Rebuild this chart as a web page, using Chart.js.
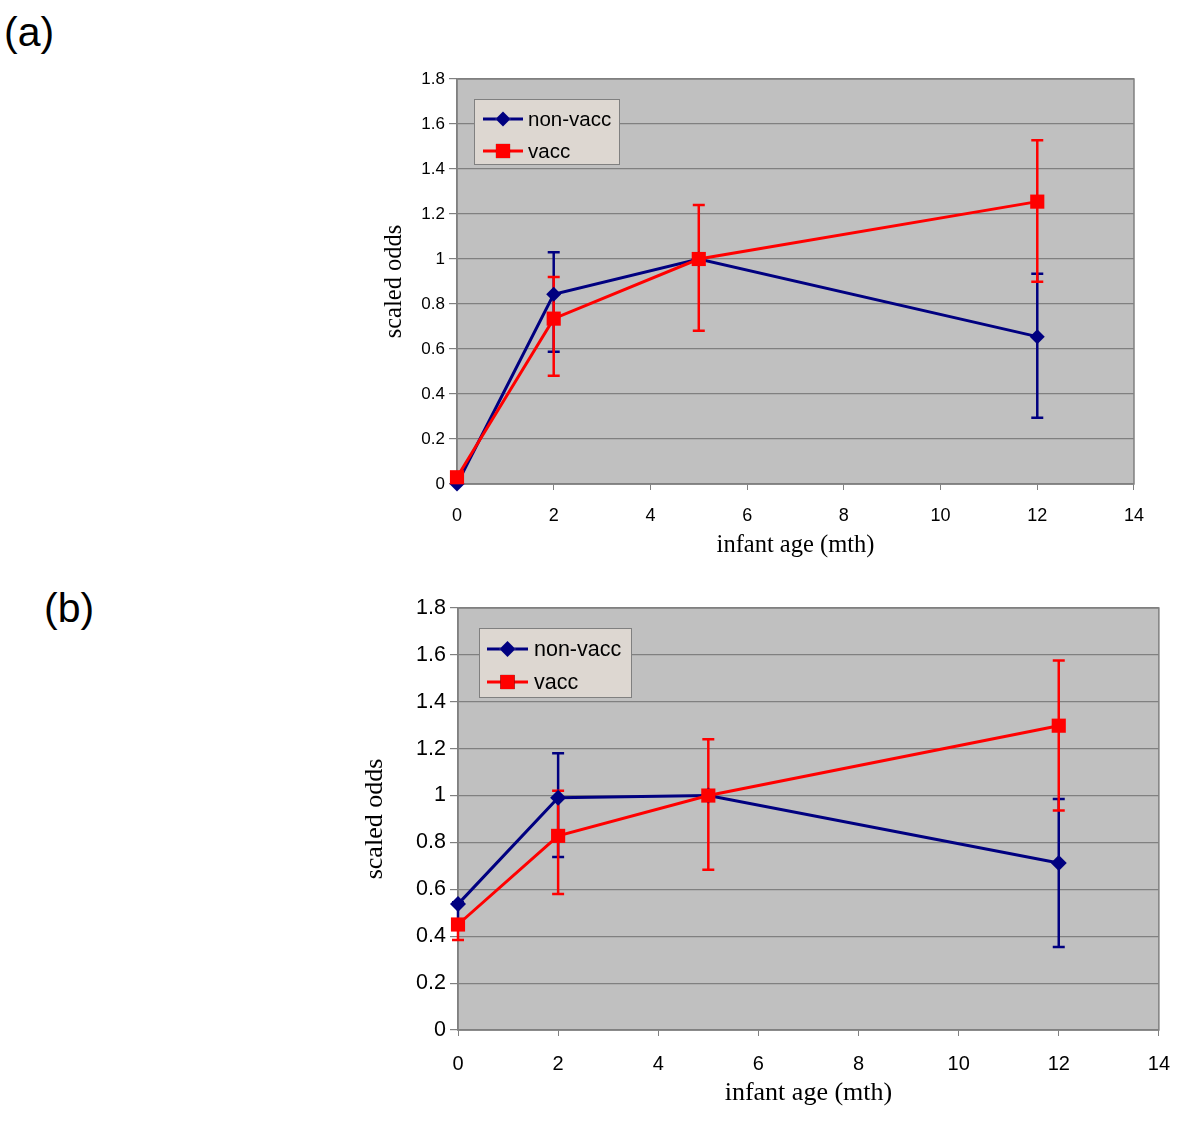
<!DOCTYPE html>
<html>
<head>
<meta charset="utf-8">
<script src="https://cdn.jsdelivr.net/npm/chart.js@4/dist/chart.umd.min.js"></script>
<style>
  body { margin: 0; background: #fff; width: 1200px; height: 1142px; position: relative; overflow: hidden; }
  .panel-label { position: absolute; font-family: "Liberation Sans", Arial, sans-serif; font-size: 41px; line-height: 1; color: #000; }
  .wrap { position: absolute; }
</style>
</head>
<body>
<div class="panel-label" style="left:4px; top:12px;">(a)</div>
<div class="panel-label" style="left:44px; top:588px;">(b)</div>
<div class="wrap" style="left:380px; top:60px; width:779px; height:500px;"><canvas id="chart-a"></canvas></div>
<div class="wrap" style="left:360px; top:590px; width:826px; height:520px;"><canvas id="chart-b"></canvas></div>
<script>
// infant age (months) at each measurement
const ages = [0, 2, 5, 12];

// panel (a)
const aNonVacc = [0.0, 0.843, 1.0, 0.655];
const aNonVaccHi = [null, 1.03, null, 0.935];
const aNonVaccLo = [null, 0.588, null, 0.295];
const aVacc = [0.03, 0.735, 1.0, 1.255];
const aVaccHi = [null, 0.92, 1.24, 1.528];
const aVaccLo = [null, 0.481, 0.681, 0.899];

// panel (b)
const bNonVacc = [0.537, 0.991, 1.0, 0.712];
const bNonVaccHi = [0.545, 1.18, null, 0.985];
const bNonVaccLo = [0.46, 0.738, null, 0.354];
const bVacc = [0.45, 0.828, 1.0, 1.298];
const bVaccHi = [0.47, 1.02, 1.24, 1.576];
const bVaccLo = [0.384, 0.58, 0.683, 0.936];

const seriesNames = ["non-vacc", "vacc"];
const xTicks = [0, 2, 4, 6, 8, 10, 12, 14];
const yTicks = [0, 0.2, 0.4, 0.6, 0.8, 1, 1.2, 1.4, 1.6, 1.8];

const NAVY = "#000080";
const RED = "#ff0000";
const GRID = "#808080";

const plotBackground = {
  id: "plotBackground",
  beforeDraw(chart) {
    const { ctx, chartArea: a } = chart;
    ctx.save();
    ctx.fillStyle = "#c0c0c0";
    ctx.fillRect(a.left, a.top, a.right - a.left, a.bottom - a.top);
    ctx.restore();
  },
  beforeDatasetsDraw(chart) {
    const { ctx, chartArea: a } = chart;
    ctx.save();
    ctx.strokeStyle = GRID;
    ctx.lineWidth = 1.5;
    ctx.strokeRect(a.left, a.top, a.right - a.left, a.bottom - a.top);
    ctx.restore();
  },
};

const errorBars = {
  id: "errorBars",
  beforeDatasetsDraw(chart, args, opts) {
    const { ctx } = chart;
    const xs = chart.scales.x;
    const ys = chart.scales.y;
    ctx.save();
    chart.data.datasets.forEach((ds) => {
      ctx.strokeStyle = ds.borderColor;
      ctx.lineWidth = opts.width;
      ds.data.forEach((pt, i) => {
        const hi = ds.errHi[i];
        const lo = ds.errLo[i];
        if (hi == null || lo == null) return;
        const px = xs.getPixelForValue(pt.x);
        const top = ys.getPixelForValue(hi);
        const bot = ys.getPixelForValue(lo);
        ctx.beginPath();
        ctx.moveTo(px, top);
        ctx.lineTo(px, bot);
        ctx.moveTo(px - opts.cap, top);
        ctx.lineTo(px + opts.cap, top);
        ctx.moveTo(px - opts.cap, bot);
        ctx.lineTo(px + opts.cap, bot);
        ctx.stroke();
      });
    });
    ctx.restore();
  },
};

const boxLegend = {
  id: "boxLegend",
  afterDraw(chart, args, o) {
    const { ctx, chartArea: a } = chart;
    const x = a.left + o.dx;
    const y = a.top + o.dy;
    ctx.save();
    ctx.fillStyle = "#ddd7d1";
    ctx.fillRect(x, y, o.w, o.h);
    ctx.strokeStyle = GRID;
    ctx.lineWidth = 1;
    ctx.strokeRect(x + 0.5, y + 0.5, o.w, o.h);
    ctx.font = o.fontSize + 'px "Liberation Sans", Arial, sans-serif';
    ctx.textBaseline = "middle";
    chart.data.datasets.forEach((ds, i) => {
      const ry = y + o.row0 + i * o.rowGap;
      const lx = x + o.lineStart;
      const mx = lx + o.lineLen / 2;
      ctx.strokeStyle = ds.borderColor;
      ctx.lineWidth = 3;
      ctx.beginPath();
      ctx.moveTo(lx, ry);
      ctx.lineTo(lx + o.lineLen, ry);
      ctx.stroke();
      Chart.helpers.drawPoint(ctx, {
        pointStyle: ds.pointStyle,
        radius: ds.pointRadius,
        borderWidth: 0,
      }, mx, ry);
      ctx.fillStyle = ds.borderColor;
      ctx.fill();
      ctx.fillStyle = "#000";
      ctx.fillText(ds.label, lx + o.lineLen + o.textGap, ry + 1);
    });
    ctx.restore();
  },
};

function toPoints(values) {
  return ages.map((x, i) => ({ x, y: values[i] }));
}

function drawPanel(id, sizes, nonVacc, nvHi, nvLo, vacc, vHi, vLo) {
  const ctx = document.getElementById(id).getContext("2d");
  const sans = '"Liberation Sans", Arial, sans-serif';
  const titleFont = { family: '"Liberation Serif", "Times New Roman", serif', size: sizes.titleFont };

  return new Chart(ctx, {
    type: "line",
    data: {
      datasets: [
        {
          label: seriesNames[0],
          data: toPoints(nonVacc),
          errHi: nvHi,
          errLo: nvLo,
          borderColor: NAVY,
          backgroundColor: NAVY,
          borderWidth: 3,
          pointStyle: "rectRot",
          pointRadius: sizes.diamond,
          pointBorderWidth: 0,
          clip: false,
          order: 1,
        },
        {
          label: seriesNames[1],
          data: toPoints(vacc),
          errHi: vHi,
          errLo: vLo,
          borderColor: RED,
          backgroundColor: RED,
          borderWidth: 3,
          pointStyle: "rect",
          pointRadius: sizes.square,
          pointBorderWidth: 0,
          clip: false,
          order: 0,
        },
      ],
    },
    options: {
      responsive: true,
      maintainAspectRatio: false,
      animation: false,
      layout: { padding: { top: sizes.padTop, right: sizes.padRight, left: 0, bottom: 0 } },
      plugins: {
        legend: { display: false },
        tooltip: { enabled: false },
        errorBars: { width: 2.5, cap: 6 },
        boxLegend: sizes.legend,
      },
      scales: {
        x: {
          type: "linear",
          min: 0,
          max: 14,
          afterBuildTicks: (s) => { s.ticks = xTicks.map((v) => ({ value: v })); },
          afterFit: (s) => { s.height = sizes.xHeight; },
          grid: { drawOnChartArea: false, drawTicks: true, tickLength: 6, color: GRID },
          border: { color: GRID, width: 1.5 },
          ticks: { color: "#000", font: { family: sans, size: sizes.xTickFont }, padding: sizes.xTickPad, maxRotation: 0 },
          title: { display: true, text: "infant age (mth)", color: "#000", font: titleFont, padding: { top: 0, bottom: sizes.xTitlePad } },
        },
        y: {
          type: "linear",
          min: 0,
          max: 1.8,
          afterBuildTicks: (s) => { s.ticks = yTicks.map((v) => ({ value: v })); },
          afterFit: (s) => { s.width = sizes.yWidth; },
          grid: { color: GRID, lineWidth: 1.2, tickLength: 8 },
          border: { color: GRID, width: 1.5 },
          ticks: { color: "#000", font: { family: sans, size: sizes.yTickFont }, padding: 4, callback: (v) => String(Math.round(v * 10) / 10) },
          title: { display: true, text: "scaled odds", color: "#000", font: titleFont, padding: { top: 0, bottom: 0 } },
        },
      },
    },
    plugins: [plotBackground, errorBars, boxLegend],
  });
}

drawPanel("chart-a", {
  xTickFont: 18, yTickFont: 17, titleFont: 24.5, diamond: 7.5, square: 10,
  padTop: 19, padRight: 20, xHeight: 76, yWidth: 77, xTickPad: 15, xTitlePad: 0,
  legend: { dx: 17, dy: 20, w: 145, h: 65, row0: 20, rowGap: 32, lineStart: 9, lineLen: 40, textGap: 5, fontSize: 20.5 },
}, aNonVacc, aNonVaccHi, aNonVaccLo, aVacc, aVaccHi, aVaccLo);

drawPanel("chart-b", {
  xTickFont: 20, yTickFont: 21.5, titleFont: 26, diamond: 8, square: 10,
  padTop: 18, padRight: 20, xHeight: 80, yWidth: 98, xTickPad: 16, xTitlePad: 1,
  legend: { dx: 21, dy: 20, w: 152, h: 69, row0: 21, rowGap: 33, lineStart: 8, lineLen: 41, textGap: 6, fontSize: 21.5 },
}, bNonVacc, bNonVaccHi, bNonVaccLo, bVacc, bVaccHi, bVaccLo);
</script>
</body>
</html>
